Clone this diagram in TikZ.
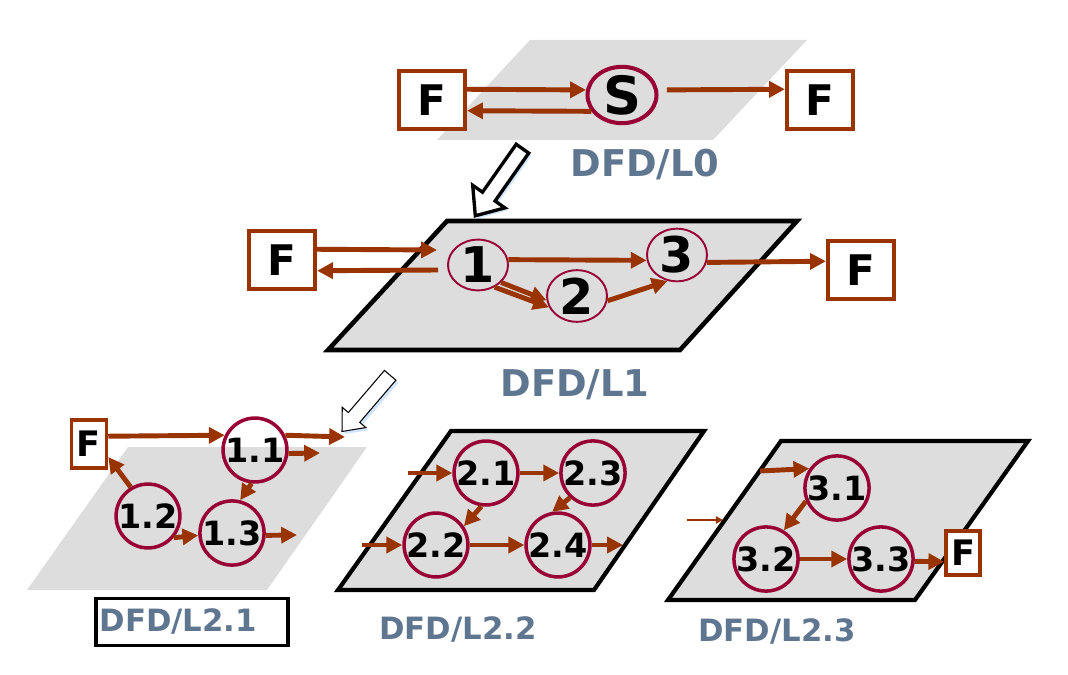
\documentclass[tikz,border=0pt]{standalone}
\usepackage{fontspec}
\setmainfont{DejaVu Sans}
\usetikzlibrary{arrows.meta,shapes.geometric,shapes.arrows,shadows}
\definecolor{flowbrown}{RGB}{153,51,0}
\definecolor{bubblered}{RGB}{153,0,51}
\definecolor{planegray}{RGB}{221,221,221}
\definecolor{levelblue}{RGB}{95,118,145}
\definecolor{shadeblue}{RGB}{208,230,255}

\begin{document}
\begin{tikzpicture}[x=0.02cm, y=-0.02cm]
                \tikzstyle{plane} = [fill=planegray];
                \tikzstyle{frame} = [fill=planegray, draw=black, line width=2.6pt];
                \tikzstyle{flow} = [draw=flowbrown, line width=2.8pt, -{Triangle[length=9pt,width=9pt]}];
                \tikzstyle{thinflow} = [draw=flowbrown, line width=1pt, -{Triangle[length=4pt,width=4pt]}];
                \tikzstyle{extern} = [rectangle, draw=flowbrown, fill=white, line width=2.4pt, inner sep=0pt, minimum width=1.32cm, minimum height=1.16cm, font=\bfseries\fontsize{24}{24}\selectfont];
                \tikzstyle{smallextern} = [extern, line width=2pt, minimum width=0.7cm, minimum height=0.96cm, font=\bfseries\fontsize{20}{20}\selectfont];
                \tikzstyle{bubble} = [ellipse, draw=bubblered, line width=1.1pt, inner sep=0pt, minimum width=1.2cm, minimum height=1.0cm, font=\bfseries\fontsize{28}{28}\selectfont];
                \tikzstyle{subbubble} = [circle, draw=bubblered, line width=2pt, inner sep=0pt, minimum size=1.16cm, font=\bfseries\fontsize{19}{19}\selectfont];
                \tikzstyle{level} = [text=levelblue, font=\bfseries\fontsize{21}{21}\selectfont];
                \tikzstyle{sublevel} = [text=levelblue, font=\bfseries\fontsize{17.5}{17.5}\selectfont];
                \tikzstyle{hollow} = [single arrow, draw=black, fill=white, inner xsep=0pt, single arrow head indent=0pt, single arrow tip angle=80, drop shadow={shadow xshift=1.5pt, shadow yshift=-1.5pt, fill=shadeblue, opacity=1}];

                \useasboundingbox (0,0) rectangle (1068,675);

                % level 0
                \fill[plane] (530,40) -- (807,40) -- (713,140) -- (437,140) -- cycle;
                \node[extern](f0a) at (432,100) {F};
                \node[extern](f0b) at (820,100) {F};
                \node[bubble, line width=2.3pt, minimum width=1.38cm, minimum height=1.02cm, font=\bfseries\fontsize{30}{30}\selectfont](s0) at (622,95) {S};
                \node[level](l0) at (645,165) {DFD/L0};

                \draw[flow] (f0a.17) -- (s0.172);
                \draw[flow] (s0.208) -- (f0a.-17);
                \draw[flow, shorten <=5pt] (s0.8) -- (f0b.163);

                \node[hollow, line width=1.9pt, minimum height=1.64cm, inner ysep=0.12cm, single arrow head extend=0.24cm, rotate=234.9](down0) at (501.5,178.5) {};

                % level 1
                \draw[frame] (447,221) -- (797,221) -- (680,350) -- (328,350) -- cycle;
                \node[extern](f1a) at (282,260) {F};
                \node[extern](f1b) at (861,270) {F};
                \node[bubble](p1) at (478,265) {1};
                \node[bubble](p2) at (577,296) {2};
                \node[bubble](p3) at (677,255) {3};
                \node[level](l1) at (575,385) {DFD/L1};
                \coordinate (p1in) at (437,250);
                \coordinate (p1out) at (438,270);

                \draw[flow] (f1a.17) -- (p1in);
                \draw[flow] (p1out) -- (f1a.-17);
                \draw[flow] (p1.10) -- (p3.190);
                \draw[flow] (p1.-37) -- (p2.188);
                \draw[flow] (p1.-53) -- (p2.202);
                \draw[flow] (p2.-9) -- (p3.250);
                \draw[flow] (p3.-14) -- (f1b.166);

                \node[hollow, line width=0.6pt, minimum height=1.48cm, inner ysep=0.14cm, single arrow head extend=0.16cm, rotate=229.4](down1) at (369,400) {};

                % level 2.1
                \fill[plane] (128,447) -- (367,447) -- (267,590) -- (27,590) -- cycle;
                \node[smallextern](f21) at (89,444) {F};
                \node[subbubble](c11) at (255,450) {1.1};
                \node[subbubble](c12) at (148,516) {1.2};
                \node[subbubble](c13) at (232,533) {1.3};
                \node[sublevel, draw=black, line width=1.8pt, minimum width=3.84cm, minimum height=0.94cm, text width=3.7cm, align=left, inner xsep=2pt](l21) at (192,622) {DFD/L2.1};
                \coordinate (c11outa) at (345,437);
                \coordinate (c11outb) at (320,453);
                \coordinate (c13out) at (297,535);

                \draw[flow] (f21.22) -- (c11.154);
                \draw[flow] (c11.26) -- (c11outa);
                \draw[flow] (c11.-6) -- (c11outb);
                \draw[flow] (c11.264) -- (c13.76);
                \draw[flow] (c12.121) -- (f21.-34);
                \draw[flow] (c12.-40) -- (c13.184);
                \draw[flow] (c13.-4) -- (c13out);

                % level 2.2
                \draw[frame, line width=2.4pt] (451,431) -- (704,431) -- (594,590) -- (338,590) -- cycle;
                \node[subbubble](c21) at (486,473) {2.1};
                \node[subbubble](c23) at (593,473) {2.3};
                \node[subbubble](c22) at (436,545) {2.2};
                \node[subbubble](c24) at (558,545) {2.4};
                \node[sublevel](l22) at (458,630) {DFD/L2.2};
                \coordinate (c21in) at (408,473);
                \coordinate (c22in) at (362,545);
                \coordinate (c24out) at (623,545);

                \draw[flow] (c21in) -- (c21.west);
                \draw[flow] (c21.east) -- (c23.west);
                \draw[flow] (c21.262) -- (c22.34);
                \draw[flow] (c23.227) -- (c24.100);
                \draw[flow] (c22in) -- (c22.west);
                \draw[flow] (c22.east) -- (c24.west);
                \draw[flow] (c24.east) -- (c24out);

                % level 2.3
                \draw[frame, line width=2.4pt] (781,441) -- (1028,441) -- (915,600) -- (668,600) -- cycle;
                \node[subbubble](c31) at (837,488) {3.1};
                \node[subbubble](c32) at (766,559) {3.2};
                \node[subbubble](c33) at (881,559) {3.3};
                \node[smallextern, minimum width=0.68cm, minimum height=0.88cm](f23) at (963,553) {F};
                \node[sublevel](l23) at (777,632) {DFD/L2.3};
                \coordinate (c31in) at (760,471);
                \coordinate (straya) at (687,520);
                \coordinate (strayb) at (723,520);

                \draw[flow] (c31in) -- (c31.145);
                \draw[flow] (c31.203) -- (c32.58);
                \draw[thinflow] (straya) -- (strayb);
                \draw[flow] (c32.east) -- (c33.west);
                \draw[flow] (c33.-4) -- (f23.205);
\end{tikzpicture}
\end{document}
